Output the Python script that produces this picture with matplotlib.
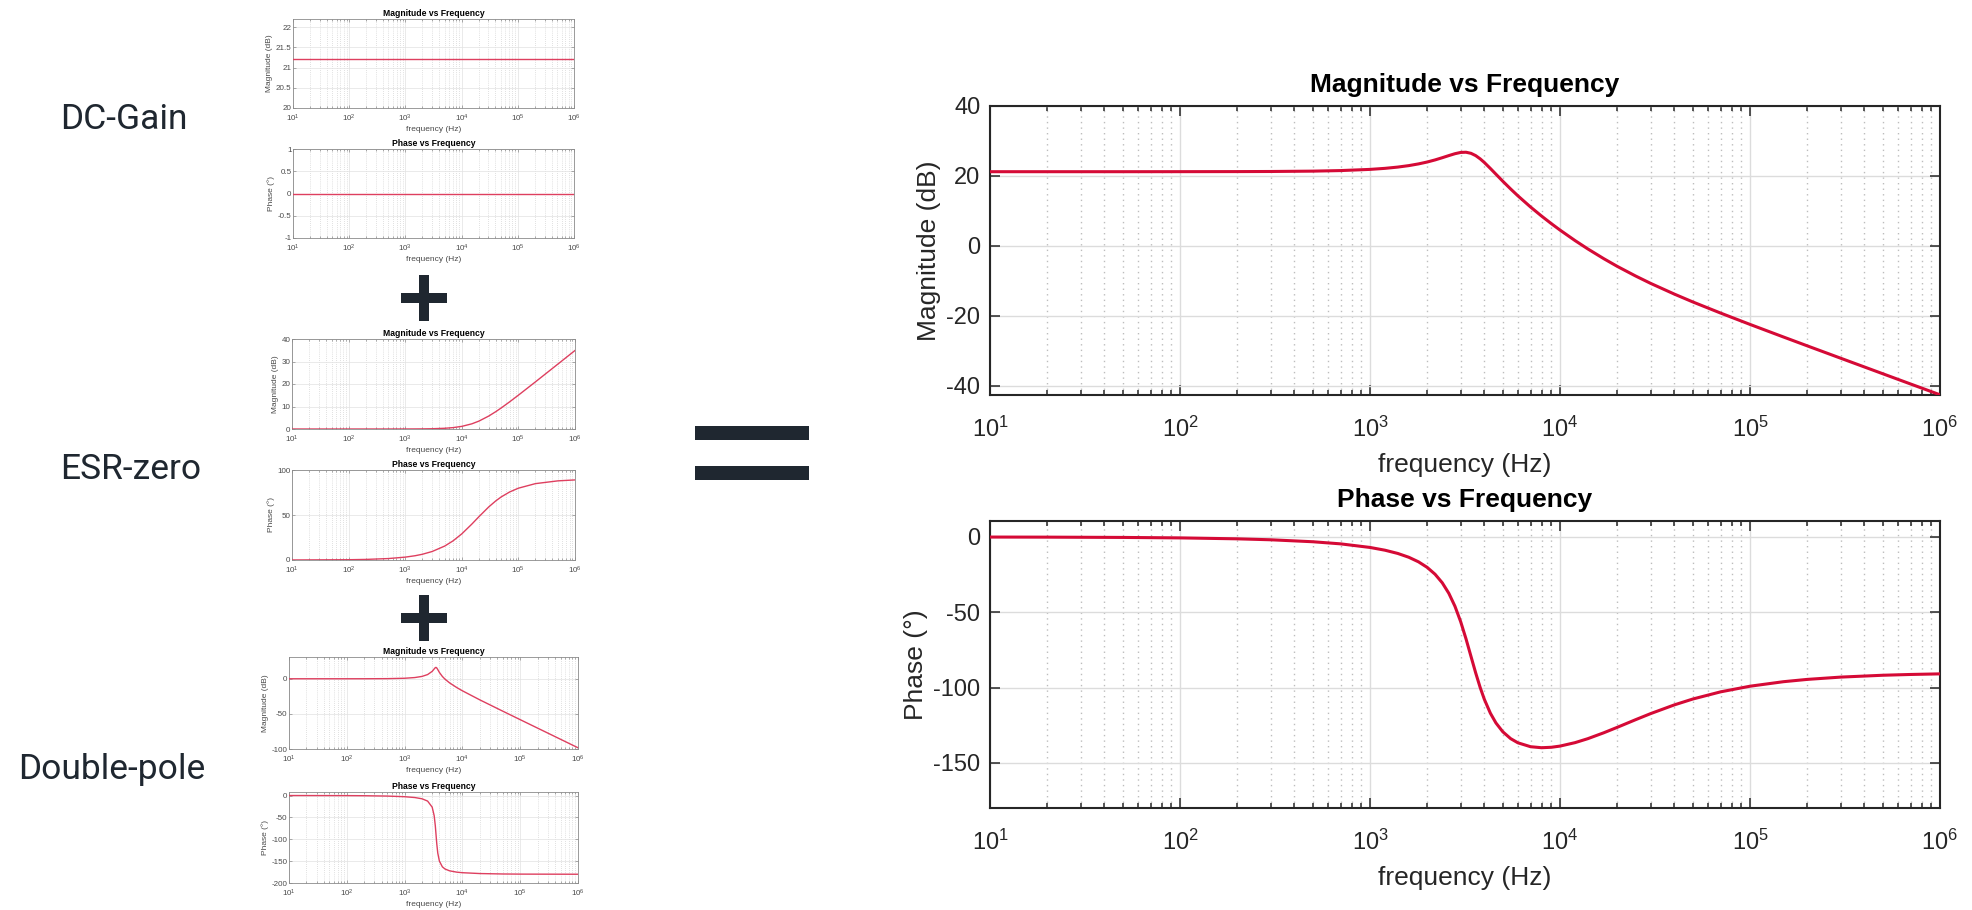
# Bode plot build-up of a buck converter plant:
# DC gain + ESR zero + double pole = total response
import numpy as np
import matplotlib
matplotlib.use('Agg')
import matplotlib.pyplot as plt
from matplotlib.patches import Rectangle
from matplotlib.ticker import LogLocator, NullFormatter

plt.rcParams['font.family'] = 'Liberation Sans'
plt.rcParams['mathtext.fontset'] = 'custom'
plt.rcParams['mathtext.rm'] = 'Liberation Sans'
plt.rcParams['mathtext.it'] = 'Liberation Sans:italic'
plt.rcParams['mathtext.bf'] = 'Liberation Sans:bold'
plt.rcParams['axes.unicode_minus'] = False

# region data
dc_freq = [10, 1e6]
dc_mag = [21.2, 21.2]
dc_phase = [0.0, 0.0]

esr_freq = [10, 100, 200, 500, 1000, 1500, 2000, 3000, 5000, 7000, 10000, 15000,
            20000, 30000, 40000, 50000, 70000, 1e5, 2e5, 5e5, 1e6]
esr_mag = [0.0, 0.0, 0.001, 0.003, 0.013, 0.03, 0.053, 0.119, 0.323, 0.612, 1.168, 2.29,
           3.492, 5.772, 7.737, 9.403, 12.074, 15.033, 20.95, 28.88, 34.896]
esr_phase = [0.03, 0.32, 0.64, 1.59, 3.18, 4.76, 6.34, 9.46, 15.52, 21.25, 29.05, 39.81,
             48.01, 59.04, 65.77, 70.2, 75.58, 79.8, 84.86, 87.94, 88.97]

dp_freq = [10, 100, 200, 500, 1000, 1500, 2000, 2500, 3000, 3250, 3400, 3500, 3600, 3750,
           4000, 4500, 5000, 6000, 8000, 10000, 20000, 50000, 1e5, 1e6]
dp_mag = [0.0, 0.01, 0.03, 0.18, 0.73, 1.73, 3.36, 5.98, 10.55, 14.01, 15.88, 16.19, 15.41, 13.06,
          9.03, 3.31, -0.54, -5.83, -12.55, -17.12, -30.01, -46.15, -58.23, -98.24]
dp_phase = [-0.04, -0.25, -0.51, -1.3, -2.76, -4.65, -7.49, -12.74, -26.6, -46.26, -69.49, -90.0,
            -109.97, -131.7, -149.94, -163.03, -167.99, -172.2, -175.21, -176.46, -178.4,
            -179.38, -179.69, -179.97]

tot_freq = [10, 20, 50, 100, 200, 300, 500, 700, 1000, 1200, 1400, 1600, 1800, 2000, 2200,
            2400, 2600, 2800, 3000, 3200, 3400, 3600, 3800, 4000, 4300, 4600, 5000, 5500,
            6000, 7000, 8000, 9000, 10000, 12000, 14000, 17000, 20000, 25000, 30000, 40000,
            50000, 70000, 1e5, 1.5e5, 2e5, 3e5, 5e5, 7e5, 1e6]
tot_mag = [21.2, 21.2, 21.2, 21.21, 21.23, 21.26, 21.36, 21.52, 21.86, 22.16, 22.52, 22.94,
           23.43, 23.97, 24.57, 25.2, 25.81, 26.35, 26.71, 26.77, 26.46, 25.8, 24.88, 23.82,
           22.13, 20.49, 18.47, 16.25, 14.31, 11.09, 8.5, 6.34, 4.5, 1.49, -0.89, -3.69,
           -5.88, -8.65, -10.76, -13.83, -16.07, -19.25, -22.5, -26.1, -28.63, -32.17,
           -36.62, -39.55, -42.64]
tot_phase = [-0.06, -0.12, -0.31, -0.62, -1.24, -1.87, -3.18, -4.58, -6.96, -8.81, -10.95,
             -13.48, -16.52, -20.21, -24.76, -30.42, -37.44, -46.04, -56.23, -67.6, -79.3,
             -90.32, -99.94, -107.91, -117.03, -123.51, -129.38, -133.94, -136.69, -139.3,
             -139.97, -139.67, -138.89, -136.6, -133.97, -130.04, -126.44, -121.35, -117.31,
             -111.51, -107.63, -102.87, -99.12, -96.12, -94.6, -93.07, -91.84, -91.32, -90.92]

# y ticks / labels per panel
dc_mag_ticks = [20, 20.5, 21, 21.5, 22]
dc_mag_labels = ['20', '20.5', '21', '21.5', '22']
dc_phase_ticks = [-1, -0.5, 0, 0.5, 1]
dc_phase_labels = ['-1', '-0.5', '0', '0.5', '1']
esr_mag_ticks = [0, 10, 20, 30, 40]
esr_phase_ticks = [0, 50, 100]
dp_mag_ticks = [-100, -50, 0]
dp_phase_ticks = [-200, -150, -100, -50, 0]
tot_mag_ticks = [-40, -20, 0, 20, 40]
tot_phase_ticks = [-150, -100, -50, 0]

block_names = ['DC-Gain', 'ESR-zero', 'Double-pole']
# endregion

W, H = 1972, 910
DARK = '#1F2730'
RED = '#D50A36'
RED_SMALL = '#DE3F5F'

BIG = dict(tick=17, label=19, title=19, spine='#262626', spine_w=1.5, maj=7, mnr=3.5,
           tick_w=1.1, xpad=15.5, ypad=7, tpad=10, xlpad=8, ylpad=3.5, text='#262626',
           grid='#dcdcdc', grid_w=1.0, mgrid='#bdbdbd', mls=(0, (1, 3)), lw=2.2, color=RED)
SMALL = dict(tick=5.8, label=6, title=6.2, spine='#8a8a8a', spine_w=0.6, maj=2.5, mnr=1.3,
             tick_w=0.5, xpad=3.5, ypad=1, tpad=2, xlpad=1.5, ylpad=2, text='#4a4a4a',
             grid='#e2e2e2', grid_w=0.5, mgrid='#c4c4c4', mls=(0, (1, 2)), lw=1.0, color=RED_SMALL)

fig = plt.figure(figsize=(W / 100, H / 100), dpi=100)


def px_axes(left, top, right, bottom):
    return fig.add_axes([left / W, 1 - bottom / H, (right - left) / W, (bottom - top) / H])


def px_rect(left, top, right, bottom):
    fig.add_artist(Rectangle((left / W, 1 - bottom / H), (right - left) / W, (bottom - top) / H,
                             transform=fig.transFigure, facecolor=DARK, edgecolor='none'))


def bode_panel(ax, freq, vals, ylim, yticks, ylabel, title, st, yticklabels=None):
    ax.plot(freq, vals, color=st['color'], lw=st['lw'], solid_joinstyle='round', zorder=3)
    ax.set_xscale('log')
    ax.set_xlim(10, 1e6)
    ax.set_ylim(*ylim)
    ax.set_yticks(yticks)
    if yticklabels is not None:
        ax.set_yticklabels(yticklabels)
    ax.xaxis.set_major_locator(LogLocator(base=10, numticks=12))
    ax.xaxis.set_minor_locator(LogLocator(base=10, subs=np.arange(2, 10), numticks=100))
    ax.xaxis.set_minor_formatter(NullFormatter())
    ax.set_axisbelow(True)
    ax.grid(True, which='major', color=st['grid'], lw=st['grid_w'], ls='-')
    ax.grid(True, which='minor', axis='x', color=st['mgrid'], lw=st['grid_w'], ls=st['mls'])
    for sp in ax.spines.values():
        sp.set_color(st['spine'])
        sp.set_linewidth(st['spine_w'])
    ax.tick_params(which='both', direction='in', top=True, right=True, color=st['spine'],
                   width=st['tick_w'], labelcolor=st['text'], labelsize=st['tick'])
    ax.tick_params(which='major', length=st['maj'])
    ax.tick_params(which='minor', length=st['mnr'])
    ax.tick_params(axis='x', pad=st['xpad'])
    ax.tick_params(axis='y', pad=st['ypad'])
    ax.set_xlabel('frequency (Hz)', fontsize=st['label'], color=st['text'], labelpad=st['xlpad'])
    ax.set_ylabel(ylabel, fontsize=st['label'], color=st['text'], labelpad=st['ylpad'])
    ax.set_title(title, fontsize=st['title'], fontweight='bold', color='black', pad=st['tpad'])


MAG = 'Magnitude vs Frequency'
PH = 'Phase vs Frequency'

# small building-block plots
bode_panel(px_axes(293, 19, 574, 108), dc_freq, dc_mag, (20, 22.2), dc_mag_ticks,
           'Magnitude (dB)', MAG, SMALL, dc_mag_labels)
bode_panel(px_axes(293, 149, 574, 238), dc_freq, dc_phase, (-1, 1), dc_phase_ticks,
           'Phase (°)', PH, SMALL, dc_phase_labels)
bode_panel(px_axes(292, 339, 575, 429), esr_freq, esr_mag, (0, 40), esr_mag_ticks,
           'Magnitude (dB)', MAG, SMALL)
bode_panel(px_axes(292, 470, 575, 560), esr_freq, esr_phase, (0, 100), esr_phase_ticks,
           'Phase (°)', PH, SMALL)
bode_panel(px_axes(289, 657, 578, 749), dp_freq, dp_mag, (-100, 31), dp_mag_ticks,
           'Magnitude (dB)', MAG, SMALL)
bode_panel(px_axes(289, 792, 578, 883), dp_freq, dp_phase, (-200, 8), dp_phase_ticks,
           'Phase (°)', PH, SMALL)

# total response
bode_panel(px_axes(990, 106, 1940, 395), tot_freq, tot_mag, (-42.7, 40), tot_mag_ticks,
           'Magnitude (dB)', MAG, BIG)
bode_panel(px_axes(990, 521, 1940, 808), tot_freq, tot_phase, (-180, 10.6), tot_phase_ticks,
           'Phase (°)', PH, BIG)

# block names on the left
for name, x, y in zip(block_names, [124, 131, 112], [129, 479, 779]):
    fig.text(x / W, 1 - y / H, name, ha='center', va='baseline', fontsize=25.5,
             family='Roboto', color=DARK)

# plus and equals signs
for cy in [298, 618]:
    px_rect(419, cy - 23, 429, cy + 23)
    px_rect(401, cy - 5, 447, cy + 5)
px_rect(695, 426, 809, 440)
px_rect(695, 466, 809, 480)

fig.savefig('out.png', dpi=100)
